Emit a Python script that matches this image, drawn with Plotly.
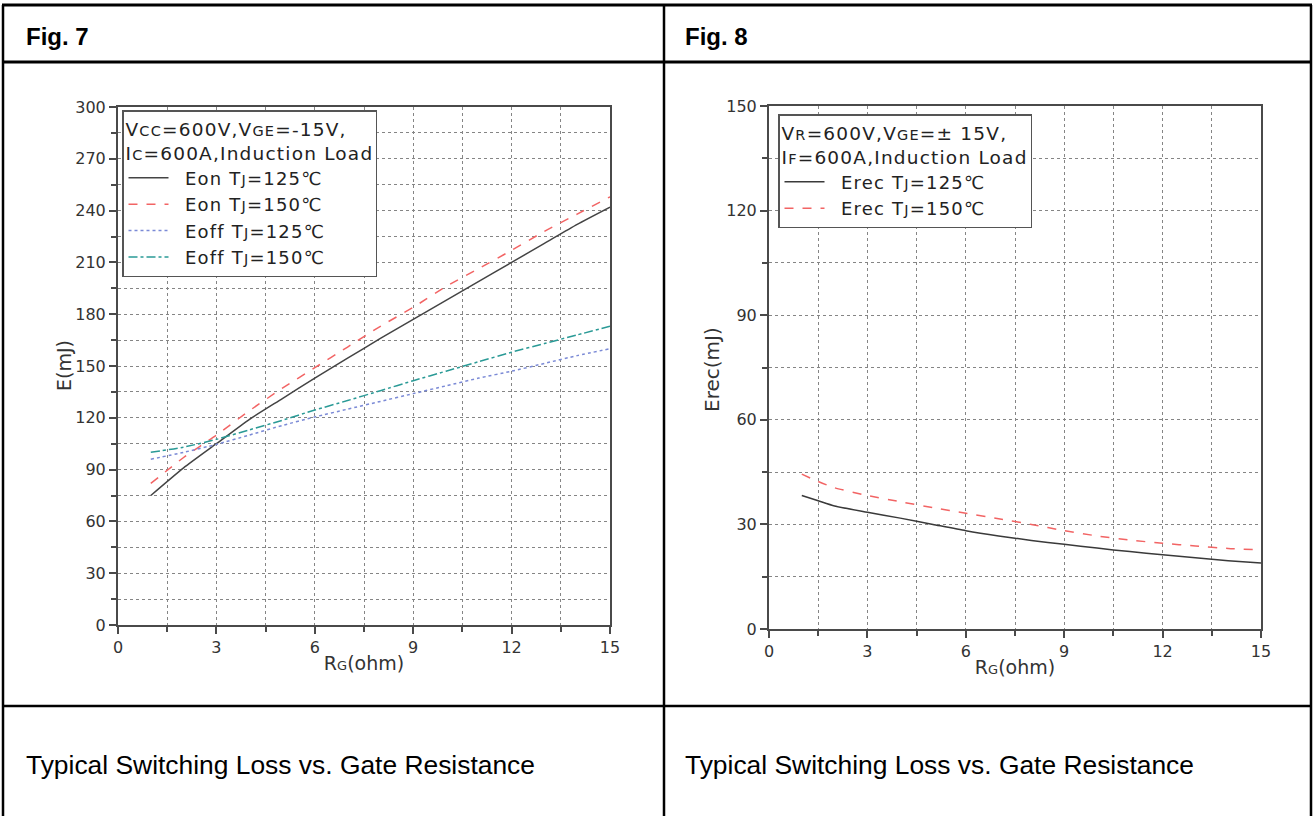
import plotly.graph_objects as go

W, H = 1314, 816

# ---------------- data ----------------
rg7 = [1, 2, 3, 4, 5, 6, 7, 8, 9, 10, 11, 12, 13, 14, 15]
eon_125 = [75, 91, 105, 119, 131, 143, 154.5, 166, 177, 188, 199, 210, 221, 232, 242]
eon_150 = [82, 97, 110, 124, 137, 149, 161, 173, 184, 196, 206.5, 217, 228, 238, 248]
eoff_125 = [96, 100, 104.6, 110, 115.5, 120.5, 125, 129.5, 134, 138.5, 143, 147, 151.5, 156, 160]
eoff_150 = [100, 103, 107.5, 113, 118.5, 124.5, 130, 135.7, 141.5, 147, 152.5, 158, 163, 168, 173]

rg8 = [1, 1.5, 2, 3, 4, 5, 6, 7, 8, 9, 10, 11, 12, 13, 14, 15]
erec_125 = [38.3, 36.8, 35.3, 33.5, 31.8, 30.0, 28.2, 26.7, 25.4, 24.3, 23.2, 22.2, 21.3, 20.4, 19.6, 18.9]
erec_150 = [44.4, 42.3, 40.5, 38.3, 36.5, 34.8, 33.2, 31.6, 30.0, 28.2, 26.7, 25.5, 24.6, 23.8, 23.1, 22.7]

x_range = [0, 15]
y7_range = [0, 300]
y8_range = [0, 150]

header_left = "Fig. 7"
header_right = "Fig. 8"
caption = "Typical Switching Loss vs. Gate Resistance"

LS = "letter-spacing:1.2px"
NB = "\u00a0\u00a0"


def seg(text, small=False):
    style = LS + (";font-size:14.5px" if small else "")
    return "<span style='" + style + "'>" + text + "</span>"


leg7_title = (seg("V") + seg("CC", True) + seg("=600V,V") + seg("GE", True) + seg("=-15V,") + "<br>"
              + seg("I") + seg("C", True) + seg("=600A,Induction Load"))
leg8_title = (seg("V") + seg("R", True) + seg("=600V,V") + seg("GE", True) + seg("=± 15V,") + "<br>"
              + seg("I") + seg("F", True) + seg("=600A,Induction Load"))


def tj(prefix, temp):
    return NB + seg(prefix + " T") + seg("J", True) + seg("=" + temp + "℃")


# ---------------- helpers ----------------
def px(x):
    return x / W


def py(y):
    return 1 - y / H


FONT = "DejaVu Sans"
AX_COL = "#4a4a4a"
GRID_COL = "#858585"


def xaxis_cfg(x0, x1):
    return dict(
        domain=[px(x0), px(x1)], range=x_range, dtick=3, tick0=0,
        showline=True, linecolor=AX_COL, linewidth=2, mirror=True,
        ticks="outside", ticklen=7, tickwidth=1.5, tickcolor=AX_COL,
        showgrid=True, gridcolor=GRID_COL, griddash="dot", gridwidth=1,
        zeroline=False,
        tickfont=dict(family=FONT, size=16, color="#333"),
        minor=dict(dtick=1.5, ticks="outside", ticklen=5, tickcolor=AX_COL, tickwidth=1.5,
                   showgrid=True, gridcolor=GRID_COL, griddash="dot", gridwidth=1),
        title=dict(text="R<span style='font-size:13px'>G</span>(ohm)",
                   font=dict(family=FONT, size=19, color="#333"), standoff=0),
    )


def yaxis_cfg(y0, y1, rng, dt):
    return dict(
        domain=[py(y1), py(y0)], range=rng, dtick=dt, tick0=0,
        showline=True, linecolor=AX_COL, linewidth=2, mirror=True,
        ticks="outside", ticklen=7, tickwidth=1.5, tickcolor=AX_COL,
        showgrid=True, gridcolor=GRID_COL, griddash="dot", gridwidth=1,
        zeroline=False,
        tickfont=dict(family=FONT, size=16, color="#333"),
        minor=dict(dtick=dt / 2, ticks="outside", ticklen=5, tickcolor=AX_COL, tickwidth=1.5,
                   showgrid=True, gridcolor=GRID_COL, griddash="dot", gridwidth=1),
    )


fig = go.Figure()
SPL = dict(shape="spline", smoothing=0.6)

# Fig. 7 traces
fig.add_trace(go.Scatter(x=rg7, y=eon_125, mode="lines", name=tj("Eon", "125"),
                         line=dict(color="#444444", width=1.5, **SPL), xaxis="x", yaxis="y", legend="legend"))
fig.add_trace(go.Scatter(x=rg7, y=eon_150, mode="lines", name=tj("Eon", "150"),
                         line=dict(color="#f26464", width=1.5, dash="dash", **SPL), xaxis="x", yaxis="y", legend="legend"))
fig.add_trace(go.Scatter(x=rg7, y=eoff_125, mode="lines", name=tj("Eoff", "125"),
                         line=dict(color="#7b8ad6", width=1.5, dash="dot", **SPL), xaxis="x", yaxis="y", legend="legend"))
fig.add_trace(go.Scatter(x=rg7, y=eoff_150, mode="lines", name=tj("Eoff", "150"),
                         line=dict(color="#2a9a96", width=1.5, dash="dashdot", **SPL), xaxis="x", yaxis="y", legend="legend"))

# Fig. 8 traces
fig.add_trace(go.Scatter(x=rg8, y=erec_125, mode="lines", name=tj("Erec", "125"),
                         line=dict(color="#3a3a3a", width=1.5, **SPL), xaxis="x2", yaxis="y2", legend="legend2"))
fig.add_trace(go.Scatter(x=rg8, y=erec_150, mode="lines", name=tj("Erec", "150"),
                         line=dict(color="#f26464", width=1.5, dash="dash", **SPL), xaxis="x2", yaxis="y2", legend="legend2"))

legend_common = dict(
    bgcolor="white", bordercolor="#555", borderwidth=1.5,
    font=dict(family=FONT, size=18, color="#222"),
    xanchor="left", yanchor="top", tracegroupgap=0, itemwidth=40,
)

fig.update_layout(
    width=W, height=H, margin=dict(l=0, r=0, t=0, b=0, autoexpand=False),
    paper_bgcolor="white", plot_bgcolor="white",
    showlegend=True,
    xaxis=dict(anchor="y", **xaxis_cfg(118, 610)),
    yaxis=dict(anchor="x", **yaxis_cfg(107, 625, y7_range, 30)),
    xaxis2=dict(anchor="y2", **xaxis_cfg(769, 1261)),
    yaxis2=dict(anchor="x2", **yaxis_cfg(106, 629, y8_range, 30)),
    legend=dict(x=px(122), y=py(110),
                title=dict(text=leg7_title, font=dict(family=FONT, size=18.5, color="#222")),
                **legend_common),
    legend2=dict(x=px(778), y=py(114),
                 title=dict(text=leg8_title, font=dict(family=FONT, size=18.5, color="#222")),
                 **legend_common),
)

# y-axis titles
for xpos, ypos, txt, size in [(64, 366, "E(mJ)", 19), (712, 370, "Erec(mJ)", 20)]:
    fig.add_annotation(x=px(xpos), y=py(ypos), xref="paper", yref="paper", xanchor="center", yanchor="middle",
                       text=txt, textangle=-90, showarrow=False,
                       font=dict(family=FONT, size=size, color="#333"))

# table frame
lines = [
    (2, 5, 1312, 5, 3),
    (2, 62, 1312, 62, 3),
    (2, 706, 1312, 706, 2.5),
    (3, 5, 3, 816, 2.5),
    (1311, 5, 1311, 816, 2.5),
    (664, 5, 664, 816, 2.5),
]
for x0, y0, x1, y1, w in lines:
    fig.add_shape(type="line", xref="paper", yref="paper",
                  x0=px(x0), y0=py(y0), x1=px(x1), y1=py(y1),
                  line=dict(color="black", width=w))

for xpos, txt in [(24, header_left), (683, header_right)]:
    fig.add_annotation(x=px(xpos), y=py(37), xref="paper", yref="paper", xanchor="left", yanchor="middle",
                       text="<b>" + txt + "</b>", showarrow=False,
                       font=dict(family="Liberation Sans", size=24, color="black"))
for xpos in [24, 683]:
    fig.add_annotation(x=px(xpos), y=py(765), xref="paper", yref="paper", xanchor="left", yanchor="middle",
                       text=caption, showarrow=False,
                       font=dict(family="Liberation Sans", size=26.4, color="black"))

fig.write_html(
    "out.html",
    post_script="document.body.style.margin='0px';document.documentElement.style.overflow='hidden';",
)
